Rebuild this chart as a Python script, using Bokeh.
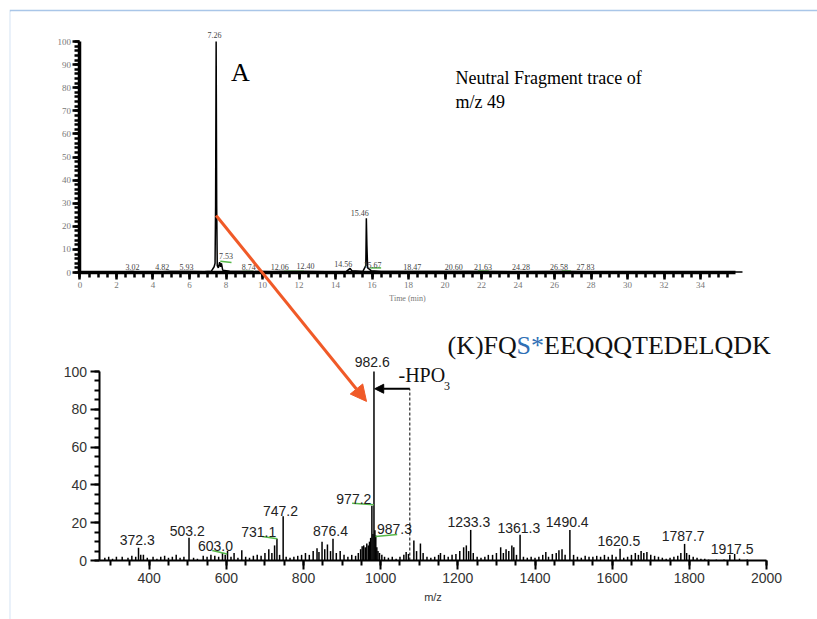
from bokeh.plotting import figure
from bokeh.models import Range1d, LinearAxis, SingleIntervalTicker, Arrow, NormalHead, ColumnDataSource
from bokeh.embed import file_html
from bokeh.resources import INLINE
from bokeh.core.properties import value

# ---------------- top: neutral fragment trace (time in min, relative intensity) -------------
trace_t = [0.0, 1.0, 2.0, 2.9, 3.1, 4.5, 4.9, 5.9, 6.8, 7.2, 7.35, 7.40, 7.43, 7.45, 7.46, 7.47, 7.49,
           7.52, 7.58, 7.65, 7.70, 7.75, 7.82, 8.2, 9.0, 9.5, 10.5, 11.0, 12.4, 13.5, 14.6, 14.8, 14.9,
           15.5, 15.66, 15.69, 15.72, 15.76, 15.85, 15.95, 16.5, 18.3, 20.6, 22.1, 24.3, 26.6, 27.8,
           30.0, 32.0, 36.3]
trace_i = [0.2, 0.3, 0.2, 0.5, 0.2, 0.3, 0.5, 0.4, 0.3, 0.6, 2.5, 4.0, 29.0, 76.0, 100.0, 77.0, 29.0,
           3.0, 2.0, 4.5, 2.5, 4.0, 1.0, 0.6, 0.5, 0.4, 0.3, 0.5, 0.5, 0.3, 0.5, 1.8, 0.8,
           0.5, 3.0, 23.5, 12.0, 2.0, 1.5, 0.8, 0.5, 0.4, 0.4, 0.5, 0.3, 0.4, 0.3,
           0.2, 0.2, 0.2]

top_labels = ["7.26", "3.02", "4.82", "5.93", "7.53", "8.74", "12.06", "12.40", "14.56", "15.46",
              "15.67", "18.47", "20.60", "21.63", "24.28", "26.58", "27.83"]
top_label_t = [7.37, 2.87, 4.51, 5.83, 8.0, 9.24, 10.95, 12.35, 14.43, 15.33,
               16.03, 18.2, 20.48, 22.08, 24.17, 26.24, 27.7]
top_label_v = [102.7, 2.6, 2.6, 2.6, 7.1, 2.6, 2.6, 2.8, 3.9, 25.9,
               3.2, 2.6, 2.6, 2.6, 2.6, 2.6, 2.6]

top_green_t0 = [7.69, 8.9, 11.17, 15.9, 21.8, 26.4]
top_green_t1 = [8.3, 9.52, 12.27, 16.5, 22.4, 26.9]
top_green_v0 = [4.9, 0.4, 0.5, 2.0, 0.6, 0.6]
top_green_v1 = [4.3, 0.4, 0.5, 2.0, 0.6, 0.6]

# ---------------- bottom: MS/MS spectrum (m/z, relative intensity) -------------
spec_mz = [285, 295, 305, 315, 330, 345, 355, 365, 372.3, 378, 385, 395, 410, 420, 430, 440, 450, 460,
           470, 480, 490, 503.2, 515, 525, 540, 550, 560, 570, 580, 590, 597, 603.0, 612, 620, 630,
           640, 650, 660, 670, 680, 690, 700, 710, 718, 725, 731.1, 738, 747.2, 755, 765, 775, 785,
           795, 805, 815, 825, 835, 840, 848, 855, 862, 870, 876.4, 885, 895, 905, 915, 925, 935,
           942, 948, 952, 956, 960, 964, 968, 971, 974, 977.2, 980, 982.6, 985, 987.3, 990, 993,
           997, 1003, 1010, 1020, 1030, 1040, 1050, 1060, 1066, 1072, 1086, 1093, 1103, 1110, 1120,
           1130, 1140, 1150, 1155, 1165, 1175, 1185, 1195, 1205, 1215, 1222, 1228, 1233.3, 1240,
           1250, 1260, 1270, 1279, 1290, 1300, 1311, 1318, 1325, 1332, 1340, 1345, 1352, 1361.3,
           1370, 1380, 1390, 1400, 1410, 1420, 1428, 1435, 1445, 1455, 1462, 1470, 1478, 1490.4,
           1500, 1510, 1520, 1530, 1540, 1550, 1560, 1570, 1580, 1590, 1600, 1610, 1620.5, 1630,
           1640, 1650, 1660, 1668, 1675, 1682, 1690, 1700, 1710, 1720, 1730, 1740, 1750, 1760,
           1770, 1778, 1787.7, 1793, 1800, 1810, 1820, 1830, 1840, 1850, 1870, 1890, 1905, 1917.5,
           1930, 1950]
spec_int = [1.5, 2, 1, 2, 2, 1.5, 2.5, 2, 6.7, 3, 3, 1.5, 2, 1, 2, 2.5, 1.5, 2,
            3, 1.5, 2, 12, 1.5, 1, 2.5, 2, 3, 2.5, 2, 4, 3, 5, 2, 4, 1.5,
            5.5, 2, 1.5, 2.5, 3, 2.5, 4, 6, 4, 8, 11.5, 3, 23.4, 2, 1.5, 2, 2.5,
            3, 4, 3, 5, 6.5, 4.5, 10, 6, 8.5, 5, 11.5, 4, 5, 3, 2, 3, 2.5,
            4, 6, 7.5, 8, 7, 9, 8, 10, 12, 29, 14, 100, 16, 13.2, 7, 5,
            4, 3, 2, 1.5, 2, 1, 2, 3, 4.5, 3.5, 10.6, 5, 9, 4, 2,
            1.5, 2, 3, 4, 3, 2, 3, 3.5, 5, 7, 8, 5, 16.2, 4,
            2, 1.5, 2, 3, 3, 4, 7, 4, 6, 5, 8, 7, 3, 13.6,
            2, 1.5, 2, 1.5, 2, 3, 4.5, 2, 3.5, 4, 5.5, 6, 3, 16.2,
            3, 2, 1.5, 2.5, 2, 2, 2.5, 2, 3, 2, 3, 2, 6.2, 1.5,
            2, 3, 4, 3, 5, 4, 4.5, 3, 2.5, 2, 1.5, 1, 1.5, 2,
            2.5, 4, 8.8, 4, 3, 2, 1.5, 1, 1, 0.5, 0.5, 0.5, 3, 3.5,
            1, 0.5]

spec_labels = ["372.3", "503.2", "603.0", "731.1", "747.2", "876.4", "977.2", "987.3", "982.6",
               "1233.3", "1361.3", "1490.4", "1620.5", "1787.7", "1917.5"]
spec_label_mz = [368.9, 498.5, 571.9, 684.0, 740.3, 870.0, 930.4, 1035.8, 978.0,
                 1228.5, 1358.0, 1483.5, 1617.2, 1784.0, 1911.0]
spec_label_v = [11.1, 15.8, 7.5, 15.3, 26.4, 15.5, 32.6, 16.7, 104.9,
                20.6, 17.1, 20.6, 10.5, 13.2, 6.1]

spec_green_mz0 = [563.3, 692.9, 926.0, 986.6]
spec_green_mz1 = [602.2, 731.8, 982.0, 1042.8]
spec_green_v0 = [5.3, 12.7, 30.3, 12.7]
spec_green_v1 = [3.5, 11.5, 29.5, 13.8]

hpo3_mz = 1075.5      # m/z of the precursor before loss
hpo3_level = 90.9

peptide_parts = ["(K)FQ", "S*", "EEQQQTEDELQDK"]

# ---------------- figure -------------
p = figure(width=808, height=610,
           x_range=Range1d(40.5, 2132.2), y_range=Range1d(-31.2, 290.5),
           x_axis_type=None, y_axis_type=None,
           toolbar_location=None, output_backend="svg",
           min_border_left=1, min_border_right=0, min_border_top=2, min_border_bottom=0)
p.margin = (9, 0, 0, 9)
p.extra_x_ranges = {"tx": Range1d(-3.808, 40.41)}
p.extra_y_ranges = {"ty": Range1d(-150.2, 113.0)}
p.outline_line_color = None
p.border_fill_color = "#a9c6e8"
p.background_fill_color = "white"

SERIF = value("Liberation Serif")
SANS = value("Liberation Sans")
TOP = dict(x_range_name="tx", y_range_name="ty")

# ---- top axes ----
tx_axis = LinearAxis(fixed_location=0, bounds=(0, 35.9),
                     ticker=SingleIntervalTicker(interval=2, num_minor_ticks=4), **TOP)
ty_axis = LinearAxis(fixed_location=0, bounds=(0, 100),
                     ticker=SingleIntervalTicker(interval=10, num_minor_ticks=5), **TOP)
for ax in (tx_axis, ty_axis):
    ax.axis_line_width = 3.5
    ax.major_tick_line_width = 2.5
    ax.minor_tick_line_width = 2.5
    ax.major_tick_in = 0
    ax.minor_tick_in = 0
    ax.major_tick_out = 7
    ax.minor_tick_out = 5
    ax.major_label_text_font = "Liberation Serif"
    ax.major_label_text_font_size = "9px"
    ax.major_label_text_color = "#777777"
    ax.major_label_standoff = 2
tx_axis.axis_label = "Time (min)"
tx_axis.axis_label_text_font = "Liberation Serif"
tx_axis.axis_label_text_font_size = "8px"
tx_axis.axis_label_text_font_style = "normal"
tx_axis.axis_label_text_color = "#777777"
tx_axis.axis_label_standoff = 3
p.add_layout(tx_axis, "below")
p.add_layout(ty_axis, "left")

# ---- bottom axes ----
bx_axis = LinearAxis(fixed_location=0, bounds=(270, 2000),
                     ticker=SingleIntervalTicker(interval=200, num_minor_ticks=4))
by_axis = LinearAxis(fixed_location=270, bounds=(0, 100),
                     ticker=SingleIntervalTicker(interval=20, num_minor_ticks=4))
for ax in (bx_axis, by_axis):
    ax.axis_line_width = 2
    ax.major_tick_line_width = 2
    ax.minor_tick_line_width = 2
    ax.major_tick_in = 0
    ax.minor_tick_in = 0
    ax.major_tick_out = 9
    ax.minor_tick_out = 5
    ax.major_label_text_font = "Liberation Sans"
    ax.major_label_text_font_size = "14px"
    ax.major_label_text_color = "#333333"
    ax.major_label_standoff = 3
bx_axis.axis_label = "m/z"
bx_axis.axis_label_text_font = "Liberation Sans"
bx_axis.axis_label_text_font_size = "11px"
bx_axis.axis_label_text_font_style = "normal"
bx_axis.axis_label_text_color = "#333333"
bx_axis.axis_label_standoff = 5
p.add_layout(bx_axis, "below")
p.add_layout(by_axis, "left")

# ---- top trace ----
p.line(trace_t, trace_i, line_color="black", line_width=1.5, **TOP)
p.segment(x0=top_green_t0, y0=top_green_v0, x1=top_green_t1, y1=top_green_v1,
          line_color="#56b84a", line_width=1.5, **TOP)
p.text(x=top_label_t, y=top_label_v, text=top_labels, text_font=SERIF, text_font_size="8px",
       text_color="#444444", text_align="center", text_baseline="alphabetic", **TOP)
p.text(x=[8.27], y=[86.7], text=["A"], text_font=SERIF, text_font_size="26px",
       text_color="black", text_align="left", text_baseline="alphabetic", **TOP)
p.text(x=[20.57, 20.57], y=[84.3, 73.7], text=["Neutral Fragment trace of", "m/z 49"],
       text_font=SERIF, text_font_size="18px", text_color="black",
       text_align="left", text_baseline="alphabetic", **TOP)

# ---- bottom spectrum ----
spec = ColumnDataSource(dict(mz=spec_mz, inten=spec_int))
p.segment(x0="mz", y0=0, x1="mz", y1="inten", source=spec, line_color="black", line_width=1.5)
p.segment(x0=spec_green_mz0, y0=spec_green_v0, x1=spec_green_mz1, y1=spec_green_v1,
          line_color="#56b84a", line_width=1.5)
p.text(x=spec_label_mz, y=spec_label_v, text=spec_labels, text_font=SANS, text_font_size="14px",
       text_color="#222222", text_align="center", text_baseline="alphabetic")

# -HPO3 neutral loss marker
p.segment(x0=[hpo3_mz], y0=[0], x1=[hpo3_mz], y1=[hpo3_level], line_color="black",
          line_width=1, line_dash="3 2")
p.add_layout(Arrow(x_start=hpo3_mz, y_start=hpo3_level, x_end=984.5, y_end=hpo3_level,
                   line_color="black", line_width=2,
                   end=NormalHead(size=9, fill_color="black", line_color="black")))
p.text(x=[1046.2], y=[98.0], text=["-HPO"], text_font=SERIF, text_font_size="20px",
       text_color="#111111", text_align="left", text_baseline="alphabetic")
p.text(x=[1164.0], y=[92.5], text=["3"], text_font=SERIF, text_font_size="12px",
       text_color="#111111", text_align="left", text_baseline="alphabetic")

pep = ColumnDataSource(dict(x=[1173.2] * 3, y=[114.0] * 3, t=peptide_parts,
                            off=[0, 69, 96.5], col=["#111111", "#2f6fb5", "#111111"]))
p.text(x="x", y="y", text="t", x_offset="off", text_color="col", source=pep,
       text_font=SERIF, text_font_size="26px", text_align="left", text_baseline="alphabetic")

# ---- orange arrow linking the trace peak to its spectrum ----
p.add_layout(Arrow(x_start=7.46, y_start=24.7, x_end=15.70, y_end=-55.8,
                   line_color="#f05a28", line_width=3,
                   end=NormalHead(size=16, fill_color="#f05a28", line_color="#f05a28"), **TOP))

open("out.html", "w").write(file_html(p, INLINE))
